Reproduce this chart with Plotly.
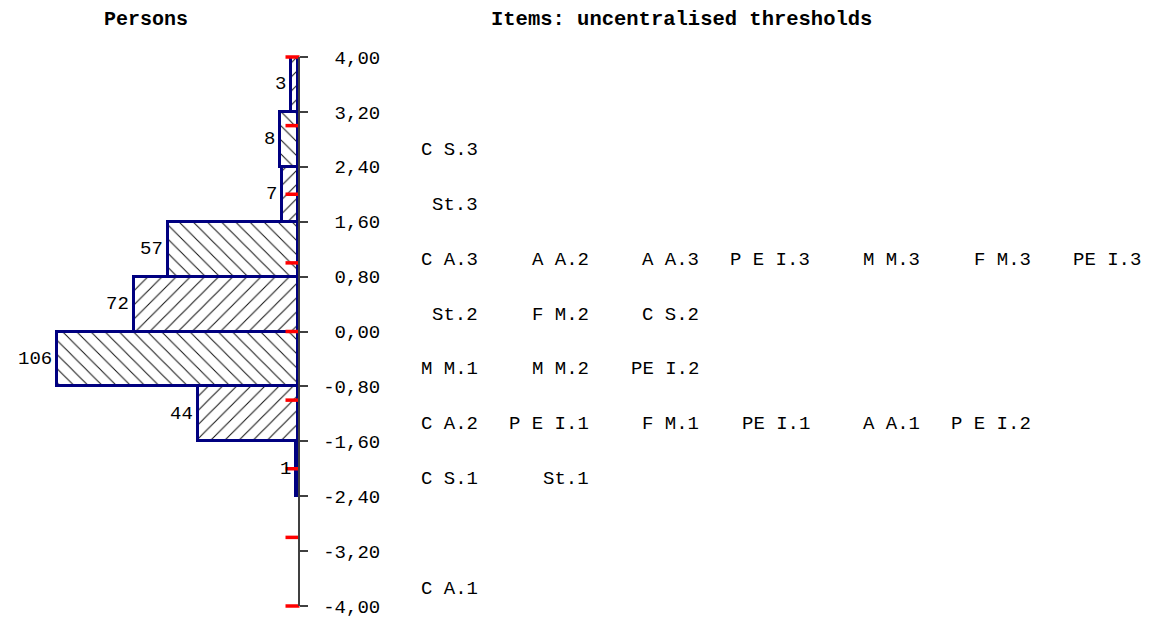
import plotly.graph_objects as go

# ---------------- data ----------------
bin_lower = [3.2, 2.4, 1.6, 0.8, 0.0, -0.8, -1.6, -2.4]
bin_upper = [4.0, 3.2, 2.4, 1.6, 0.8, 0.0, -0.8, -1.6]
person_counts = [3, 8, 7, 57, 72, 106, 44, 1]

tick_values = [4.0, 3.2, 2.4, 1.6, 0.8, 0.0, -0.8, -1.6, -2.4, -3.2, -4.0]
unit_marks = [4, 3, 2, 1, 0, -1, -2, -3, -4]

# item thresholds, grouped by the bin (upper, lower) they fall in
item_rows_lower = [2.4, 1.6, 0.8, 0.0, -0.8, -1.6, -2.4, -4.0]
item_rows_upper = [3.2, 2.4, 1.6, 0.8, 0.0, -0.8, -1.6, -3.2]
item_rows_labels = [
    ["C S.3"],
    ["St.3"],
    ["C A.3", "A A.2", "A A.3", "P E I.3", "M M.3", "F M.3", "PE I.3"],
    ["St.2", "F M.2", "C S.2"],
    ["M M.1", "M M.2", "PE I.2"],
    ["C A.2", "P E I.1", "F M.1", "PE I.1", "A A.1", "P E I.2"],
    ["C S.1", "St.1"],
    ["C A.1"],
]

title_left = "Persons"
title_right = "Items: uncentralised thresholds"

# ---------------- layout constants ----------------
W, H = 1152, 621
M_T, M_B = 57, 15
AXIS_PX = 298          # pixel x of the vertical axis
PX_PER_COUNT = 2.2736
COL0_PX = 480          # right edge of the first label column
COL_STEP = 110.5
FONT = "Liberation Mono"
FS = 19
NAVY = "#000080"
NBSP = "\u00a0"

bin_centers = [(a + b) / 2 for a, b in zip(bin_lower, bin_upper)]
bin_widths = [b - a for a, b in zip(bin_lower, bin_upper)]
hatch = ["/" if i % 2 == 0 else "\\" for i in range(len(person_counts))]

fig = go.Figure()
fig.add_trace(go.Bar(
    y=bin_centers, x=person_counts, width=bin_widths, orientation="h",
    marker=dict(color="white", line=dict(color=NAVY, width=3),
                pattern=dict(shape=hatch, fgcolor="#111111", bgcolor="white",
                             fgopacity=1, size=10, solidity=0.1)),
    hoverinfo="skip", showlegend=False, cliponaxis=False,
))
# red unit marks just left of the axis
fig.add_trace(go.Scatter(
    y=unit_marks, x=[5.5 / PX_PER_COUNT] * len(unit_marks), mode="markers",
    marker=dict(symbol="line-ew", size=10, line=dict(color="red", width=3.5)),
    hoverinfo="skip", showlegend=False, cliponaxis=False,
))

plot_h = H - M_T - M_B


def paper_y(px):
    return (H - M_B - px) / plot_h


annotations = []
# count labels
for yc, n in zip(bin_centers, person_counts):
    annotations.append(dict(x=n, y=yc, xref="x", yref="y", text=str(n),
                            showarrow=False, xanchor="right", yanchor="middle",
                            xshift=-3, font=dict(family=FONT, size=FS, color="black")))
# item labels
for lo, up, labels in zip(item_rows_lower, item_rows_upper, item_rows_labels):
    yc = (lo + up) / 2
    for c, lab in enumerate(labels):
        annotations.append(dict(x=(COL0_PX + COL_STEP * c) / W, y=yc,
                                xref="paper", yref="y", text=lab,
                                showarrow=False, xanchor="right", yanchor="middle",
                                yshift=-10.5, font=dict(family=FONT, size=FS, color="black")))
# titles
annotations.append(dict(x=146 / W, y=paper_y(19), xref="paper", yref="paper",
                        yanchor="middle", xanchor="center", showarrow=False,
                        text="<b>%s</b>" % title_left,
                        font=dict(family=FONT, size=20, color="black")))
annotations.append(dict(x=681 / W, y=paper_y(19), xref="paper", yref="paper",
                        yanchor="middle", xanchor="center", showarrow=False,
                        text="<b>%s</b>" % title_right,
                        font=dict(family=FONT, size=20.5, color="black")))

tick_text = [("%.2f" % v).replace(".", ",") for v in tick_values]
tick_text = [NBSP + (t if t.startswith("-") else NBSP + t) for t in tick_text]

fig.update_layout(
    width=W, height=H,
    margin=dict(l=0, r=0, t=M_T, b=M_B, pad=0),
    paper_bgcolor="white", plot_bgcolor="white",
    bargap=0,
    xaxis=dict(domain=[0, AXIS_PX / W], range=[AXIS_PX / PX_PER_COUNT, 0],
               showgrid=False, zeroline=False, showticklabels=False,
               showline=False, ticks="", fixedrange=True),
    yaxis=dict(range=[-4, 4], side="right", anchor="x",
               tickvals=tick_values, ticktext=tick_text,
               ticks="outside", ticklen=8, tickwidth=1.5, tickcolor="#404040",
               showline=True, linecolor="#404040", linewidth=2,
               showgrid=False, zeroline=False,
               tickfont=dict(family=FONT, size=FS, color="black"),
               fixedrange=True),
    annotations=annotations,
)

fig.write_html("out.html")
